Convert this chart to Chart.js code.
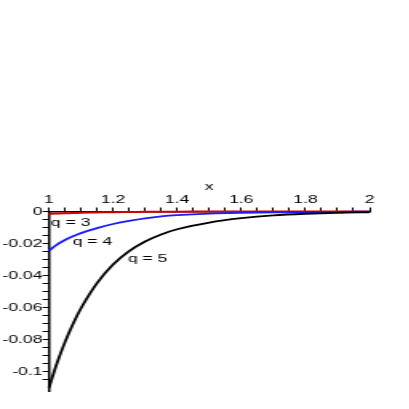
<!DOCTYPE html>
<html>
<head>
<meta charset="utf-8">
<script src="https://cdn.jsdelivr.net/npm/chart.js@4/dist/chart.umd.min.js"></script>
<style>
html,body{margin:0;padding:0;background:#fff;}
#wrap{position:absolute;left:0;top:0;width:409px;height:409px;overflow:hidden;background:#fff;}
#c{position:absolute;left:0;top:0;transform:scaleX(1.6);transform-origin:0 0;}
</style>
</head>
<body>
<div id="wrap"><canvas id="c" width="239" height="409"></canvas></div>
<script>
// x values
const xs = [1, 1.025, 1.05, 1.075, 1.1, 1.15, 1.2, 1.25, 1.3, 1.35, 1.4, 1.5, 1.6, 1.7, 1.8, 1.9, 2];
// series values
const q3 = [-0.0015, -0.0013, -0.0011, -0.0010, -0.0008, -0.0006, -0.0004, -0.0003, -0.0002, -0.0001, -0.0001, 0, 0, 0, 0, 0, 0];
const q4 = [-0.0245, -0.0207, -0.0178, -0.0155, -0.0135, -0.0104, -0.0078, -0.0059, -0.0043, -0.0031, -0.0023, -0.0013, -0.0008, -0.0005, -0.0003, -0.0002, -0.0001];
const q5 = [-0.110, -0.0947, -0.0815, -0.0702, -0.0604, -0.0447, -0.0331, -0.0247, -0.0187, -0.0143, -0.0111, -0.0069, -0.0042, -0.0024, -0.0014, -0.0008, -0.0005];
// curve labels: text, x, y (data coordinates)
const curveLabels = ["q = 3", "q = 4", "q = 5"];
const labelX = [1.006, 1.074, 1.246];
const labelY = [-0.0072, -0.0189, -0.0297];
// axis settings
const xTitle = "x";
const xMin = 1, xMax = 2, yMin = -0.112, yMax = 0;

const FONT = "'Liberation Sans', Arial, sans-serif";
const toPts = arr => xs.map((x, i) => ({x: x, y: arr[i]}));

const labelPlugin = {
  id: 'curveLabels',
  afterDatasetsDraw(chart) {
    const ctx = chart.ctx;
    const xs_ = chart.scales.x, ys_ = chart.scales.y;
    ctx.save();
    ctx.font = "11px " + FONT;
    ctx.fillStyle = "#000";
    ctx.textAlign = "left";
    ctx.textBaseline = "middle";
    curveLabels.forEach((t, i) => {
      ctx.fillText(t, xs_.getPixelForValue(labelX[i]), ys_.getPixelForValue(labelY[i]));
    });
    ctx.restore();
  }
};

const onStep = (v, step) => Math.abs(v / step - Math.round(v / step)) < 1e-6;

new Chart(document.getElementById('c'), {
  type: 'line',
  data: {
    datasets: [
      {label: 'q = 5', data: toPts(q5), borderColor: '#000000', borderWidth: 1.8, pointRadius: 0, fill: false, cubicInterpolationMode: 'monotone', clip: false},
      {label: 'q = 4', data: toPts(q4), borderColor: '#1a1aff', borderWidth: 1.8, pointRadius: 0, fill: false, cubicInterpolationMode: 'monotone', clip: false},
      {label: 'q = 3', data: toPts(q3), borderColor: '#d40000', borderWidth: 2, pointRadius: 0, fill: false, cubicInterpolationMode: 'monotone', clip: false}
    ]
  },
  options: {
    responsive: false,
    animation: false,
    events: [],
    layout: {padding: {top: 172, right: 8, bottom: 18, left: 0}},
    plugins: {legend: {display: false}, tooltip: {enabled: false}, title: {display: false}},
    scales: {
      x: {
        type: 'linear', position: 'top', min: xMin, max: xMax,
        afterFit(s) { s.height = 39.5; },
        afterBuildTicks(s) { s.ticks = s.ticks.filter(t => onStep(t.value, 0.05)); },
        ticks: {
          stepSize: 0.05, autoSkip: false, maxRotation: 0, padding: 1, color: '#000',
          font: {family: FONT, size: 11},
          callback: v => onStep(v, 0.2) ? String(Number(v.toFixed(1))) : ''
        },
        grid: {drawOnChartArea: false, drawTicks: true, tickLength: 4, color: '#000', tickWidth: 1},
        border: {display: true, color: '#000', width: 1.5},
        title: {display: true, text: xTitle, color: '#000', font: {family: FONT, size: 11}, padding: {top: 8, bottom: 0}}
      },
      y: {
        type: 'linear', position: 'left', min: yMin, max: yMax,
        afterFit(s) { s.width = 30.6; },
        afterBuildTicks(s) { s.ticks = s.ticks.filter(t => onStep(t.value, 0.005)); },
        ticks: {
          stepSize: 0.005, autoSkip: false, padding: 0, color: '#000',
          font: {family: FONT, size: 11},
          callback: v => {
            if (!onStep(v, 0.02)) return '';
            const n = Number(v.toFixed(2));
            return n === 0 ? '0' : String(n);
          }
        },
        grid: {drawOnChartArea: false, drawTicks: true, tickLength: 4, color: '#000', tickWidth: 1},
        border: {display: true, color: '#000', width: 1.5}
      }
    }
  },
  plugins: [labelPlugin]
});
</script>
</body>
</html>
